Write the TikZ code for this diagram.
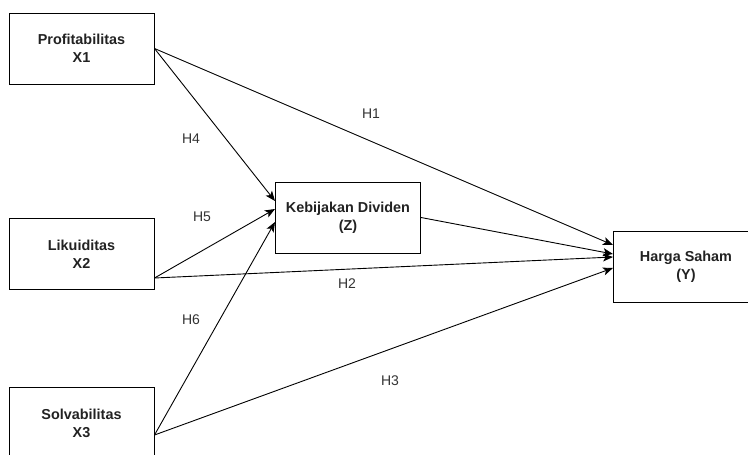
\documentclass[tikz,border=0pt]{standalone}
\usepackage{fontspec}
\setmainfont{Liberation Sans}
\usetikzlibrary{arrows.meta}
\definecolor{txt}{HTML}{222222}
\definecolor{lbl}{HTML}{333333}
\tikzset{
  box/.style={draw=black, line width=1pt, minimum width=145pt, minimum height=71pt, inner sep=0pt,
    align=center, font=\fontsize{14.4}{18}\selectfont\bfseries, text=txt},
  conn/.style={draw=black, line width=0.9pt, -{Stealth[length=10pt,width=8pt,inset=2.5pt]}},
  hlabel/.style={font=\fontsize{14}{16}\selectfont, text=lbl, inner sep=0pt}
}
\begin{document}
\begin{tikzpicture}[x=1pt,y=-1pt]
\useasboundingbox[fill=white] (0,0) rectangle (748,455);
\node[box] (x1) at (81.5,48.5) {Profitabilitas\\X1};
\node[box] (x2) at (81.5,254) {Likuiditas\\X2};
\node[box] (x3) at (81.5,423) {Solvabilitas\\X3};
\node[box] (z) at (348,217.5) {Kebijakan Dividen\\(Z)};
\node[box] (y) at (686,266.5) {Harga Saham\\(Y)};
% to Z
\draw[conn] (x1.east) -- ([yshift=16.5pt]z.west);
\draw[conn] ([yshift=12pt]x2.south east) -- ([yshift=8.5pt]z.west);
\draw[conn] ([yshift=-12pt]x3.east) -- ([yshift=-4.5pt]z.west);
% to Y
\draw[conn] (x1.east) -- ([yshift=21.5pt]y.west);
\draw[conn] (z.east) -- ([yshift=12.5pt]y.west);
\draw[conn] ([yshift=12pt]x2.south east) -- ([yshift=9.5pt]y.west);
\draw[conn] ([yshift=-12pt]x3.east) -- ([yshift=-1.5pt]y.west);
% labels
\node[hlabel] (h1) at (371,114) {H1};
\node[hlabel] (h2) at (347,284) {H2};
\node[hlabel] (h3) at (390,381) {H3};
\node[hlabel] (h4) at (191,139) {H4};
\node[hlabel] (h5) at (202,217) {H5};
\node[hlabel] (h6) at (191,320) {H6};
\end{tikzpicture}
\end{document}
